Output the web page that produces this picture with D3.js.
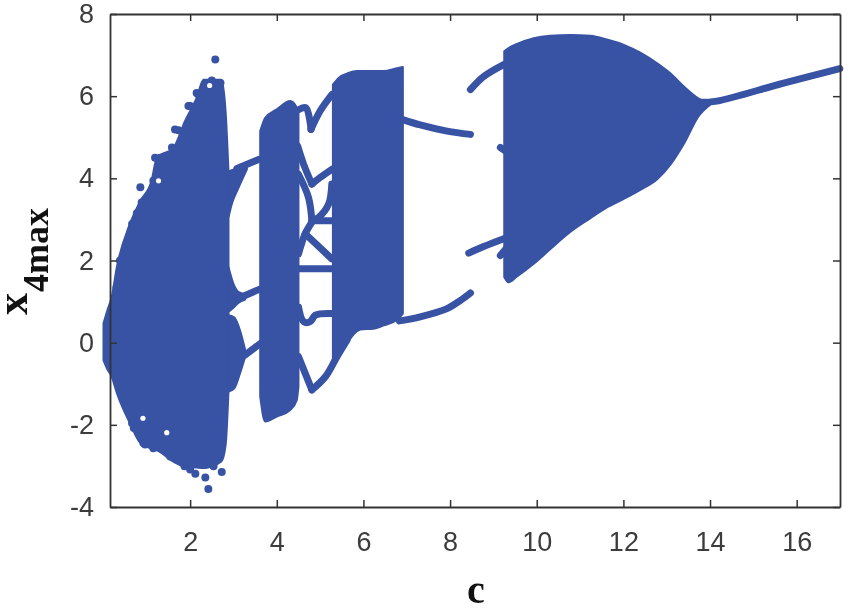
<!DOCTYPE html>
<html lang="en">
<head>
<meta charset="utf-8">
<script src="https://d3js.org/d3.v7.min.js"></script>
<style>
  body { margin: 0; background: #fff; }
  svg { display: block; filter: blur(0.5px); }
</style>
</head>
<body>
<div id="chart"></div>
<script>
// tick labels
const xTicks = [2, 4, 6, 8, 10, 12, 14, 16];
const yTicks = [-4, -2, 0, 2, 4, 6, 8];

// chaotic bands: c, upper edge, lower edge
const band1C  = [0, 0.09, 0.19, 0.31, 0.61, 0.85, 1.11, 1.23, 1.62, 1.88, 2.15, 2.31, 2.72, 2.82, 2.885];
const band1Hi = [0.47, 0.79, 1.11, 1.85, 2.89, 3.45, 3.94, 4.5, 4.75, 5.39, 5.96, 6.4, 6.4, 5.6, 4.17];
const band1Lo = [-0.43, -0.65, -0.83, -1.23, -1.96, -2.44, -2.58, -2.62, -2.9, -3.02, -3.04, -3.05, -2.89, -2.48, -1.19];

const sliverAC  = [2.885, 2.96, 3.12, 3.31];
const sliverAHi = [4.17, 4.2, 4.24, 4.28];
const sliverALo = [3.05, 3.37, 3.78, 4.22];

const sliverBC  = [2.885, 3.0, 3.12, 3.27];
const sliverBHi = [1.84, 1.43, 1.23, 1.18];
const sliverBLo = [0.75, 0.85, 0.97, 1.05];

const lobeC  = [2.885, 3.02, 3.15, 3.27];
const lobeHi = [0.67, 0.61, 0.3, -0.18];
const lobeLo = [-1.19, -1.11, -0.75, -0.34];

const band2C  = [3.617, 3.73, 4.0, 4.31, 4.46, 4.5];
const band2Hi = [5.15, 5.47, 5.68, 5.88, 5.72, 5.6];
const band2Lo = [-1.31, -1.92, -1.8, -1.64, -1.4, -1.07];

const band3C  = [5.295, 5.465, 5.62, 5.85, 5.93, 6.235, 6.465, 6.77, 6.91];
const band3Hi = [6.28, 6.48, 6.55, 6.61, 6.61, 6.61, 6.61, 6.68, 6.71];
const band3Lo = [-0.59, -0.26, -0.02, 0.28, 0.32, 0.34, 0.42, 0.55, 0.71];

const band4C  = [9.25, 9.35, 9.545, 9.93, 10.315, 10.78, 11.24, 11.62, 12.01, 12.39, 12.78, 13.09, 13.39, 13.74, 14.01];
const band4Hi = [7.09, 7.17, 7.27, 7.41, 7.47, 7.49, 7.47, 7.38, 7.25, 7.06, 6.8, 6.55, 6.24, 5.94, 5.82];
const band4Lo = [1.6, 1.47, 1.61, 1.92, 2.28, 2.7, 3.03, 3.29, 3.5, 3.72, 3.98, 4.34, 4.83, 5.52, 5.8];

const bands = [
  [band1C, band1Hi, band1Lo],
  [sliverAC, sliverAHi, sliverALo],
  [sliverBC, sliverBHi, sliverBLo],
  [lobeC, lobeHi, lobeLo],
  [band2C, band2Hi, band2Lo],
  [band3C, band3Hi, band3Lo],
  [band4C, band4Hi, band4Lo]
];

// periodic branches as [c, x4max], split at their corners
const branches = [
  [[3.08, 4.24], [3.58, 4.46]],
  [[3.23, 1.13], [3.62, 1.31]],
  [[3.27, -0.3], [3.62, -0.02]],
  [[4.525, 5.68], [4.67, 5.72], [4.79, 5.19]],
  [[4.79, 5.19], [5.0, 5.64], [5.27, 6.04]],
  [[4.48, 4.79], [4.62, 4.34], [4.81, 3.86]],
  [[4.81, 3.86], [5.0, 4.02], [5.27, 4.22]],
  [[4.5, 4.1], [4.73, 3.54], [4.81, 2.97]],
  [[4.81, 2.97], [5.27, 2.97]],
  [[5.27, 3.86], [5.195, 3.37], [4.965, 3.05], [4.81, 2.97]],
  [[4.81, 2.93], [4.655, 2.65], [4.5, 2.16]],
  [[4.655, 2.65], [5.27, 2.04]],
  [[4.5, 1.8], [5.27, 1.8]],
  [[4.5, 0.87], [4.62, 0.51], [4.77, 0.51], [4.89, 0.67], [5.27, 0.71]],
  [[4.5, -0.34], [4.81, -1.15]],
  [[4.81, -1.15], [5.12, -0.83], [5.39, -0.34], [5.62, 0.06]],
  [[6.91, 5.43], [7.31, 5.3], [7.93, 5.15], [8.47, 5.07]],
  [[6.83, 0.53], [7.31, 0.63], [7.93, 0.83], [8.24, 1.03], [8.47, 1.21]],
  [[8.47, 6.16], [8.775, 6.48], [9.237, 6.77]],
  [[8.43, 2.18], [8.775, 2.34], [9.237, 2.53]],
  [[9.16, 2.12], [9.3, 2.3]],
  [[9.16, 4.75], [9.3, 4.65]],
  [[13.74, 5.85], [14.16, 5.88], [15.7, 6.32], [16.996, 6.67]]
];

// stray points around the first band
const strayC = [2.58, 0.85, 0.77, 0.66, 0.88, 1.15, 1.65, 1.96, 2.19, 2.35, 2.7, 1.31, 2.5, 2.42, 2.35, 2.73, 2.12, 1.87, 2.35, 0.92, 0.72, 0.33,
  0.3, 0.38, 0.52, 0.63, 1.19, 1.58, 1.73, 2.0, 2.15, 2.7, 2.74, 0.66, 0.7, 0.88, 0.96, 1.15, 1.54, 2.0, 2.54, 2.74];
const strayV = [6.89, 3.78, 3.15, 2.89, 3.41, 3.94, 5.19, 5.76, 6.04, 6.32, 6.32, 4.5, 6.38, -3.56, -3.28, -3.15, -3.19, -3.01, -2.97, -2.44, -1.96, 1.35,
  1.35, 2.0, 2.32, 2.73, 4.5, 4.75, 5.17, 5.76, 6.08, 6.04, 5.31, -1.96, -2.08, -2.28, -2.48, -2.57, -2.77, -3.09, -3.01, -2.4];

// small gaps left inside the first band
const holeC = [2.45, 1.27, 0.91, 1.46];
const holeV = [6.26, 3.94, -1.84, -2.19];

const blue = "#3853a4";
const ink = "#333";

const margin = {top: 14, right: 10, bottom: 105, left: 110},
    width = 850 - margin.left - margin.right,
    height = 612 - margin.top - margin.bottom;

const root = d3.select("#chart")
  .append("svg")
    .attr("width", 850)
    .attr("height", 612);

const svg = root.append("g")
    .attr("transform", `translate(${margin.left}, ${margin.top})`);

const x = d3.scaleLinear().domain([0.15, 17]).range([0, width]);
const y = d3.scaleLinear().domain([-4, 8]).range([height, 0]);

// bands
const area = d3.area()
  .curve(d3.curveMonotoneX)
  .x(d => x(d[0]))
  .y0(d => y(d[2]))
  .y1(d => y(d[1]));

svg.selectAll("path.band")
  .data(bands)
  .join("path")
    .attr("class", "band")
    .attr("d", b => area(b[0].map((c, i) => [c, b[1][i], b[2][i]])))
    .attr("fill", blue)
    .attr("stroke", blue)
    .attr("stroke-width", 2)
    .attr("stroke-linejoin", "round");

// branches
const line = d3.line()
  .curve(d3.curveCatmullRom)
  .x(d => x(d[0]))
  .y(d => y(d[1]));

svg.selectAll("path.branch")
  .data(branches)
  .join("path")
    .attr("class", "branch")
    .attr("d", line)
    .attr("fill", "none")
    .attr("stroke", blue)
    .attr("stroke-width", 7)
    .attr("stroke-linecap", "round")
    .attr("stroke-linejoin", "round");

svg.selectAll("circle.stray")
  .data(strayC)
  .join("circle")
    .attr("class", "stray")
    .attr("cx", d => x(d))
    .attr("cy", (d, i) => y(strayV[i]))
    .attr("r", 4)
    .attr("fill", blue);

svg.selectAll("circle.hole")
  .data(holeC)
  .join("circle")
    .attr("class", "hole")
    .attr("cx", d => x(d))
    .attr("cy", (d, i) => y(holeV[i]))
    .attr("r", 2.6)
    .attr("fill", "#fff");

// axes, ticks point inwards on all four sides
const bottom = svg.append("g")
  .attr("transform", `translate(0, ${height})`)
  .call(d3.axisBottom(x).tickValues(xTicks).tickSizeInner(-7).tickSizeOuter(0).tickPadding(25).tickFormat(d => d));
const left = svg.append("g")
  .call(d3.axisLeft(y).tickValues(yTicks).tickSizeInner(-7).tickSizeOuter(0).tickPadding(16).tickFormat(d => d));
const top_ = svg.append("g")
  .call(d3.axisTop(x).tickValues(xTicks).tickSizeInner(-7).tickSizeOuter(0).tickFormat(""));
const right = svg.append("g")
  .attr("transform", `translate(${width}, 0)`)
  .call(d3.axisRight(y).tickValues(yTicks).tickSizeInner(-7).tickSizeOuter(0).tickFormat(""));

[bottom, left, top_, right].forEach(g => {
  g.selectAll("path.domain").attr("stroke", ink).attr("stroke-width", 1.8);
  g.selectAll("line").attr("stroke", ink).attr("stroke-width", 1.5);
  g.selectAll("text")
    .attr("fill", "#3c3c3c")
    .style("font-family", "'Liberation Sans', Arial, sans-serif")
    .style("font-size", "27px");
});

// axis titles
root.append("text")
  .attr("x", 476)
  .attr("y", 603)
  .attr("text-anchor", "middle")
  .attr("fill", "#111")
  .style("font-family", "'Liberation Serif', serif")
  .style("font-weight", "bold")
  .style("font-size", "40px")
  .text("c");

const yLabel = root.append("text")
  .attr("transform", "translate(27, 315) rotate(-90)")
  .attr("fill", "#111")
  .style("font-family", "'Liberation Serif', serif")
  .style("font-weight", "bold")
  .style("font-size", "44px");
yLabel.append("tspan").text("x");
yLabel.append("tspan")
  .attr("dy", 21)
  .attr("dx", 1)
  .style("font-size", "36px")
  .text("4max");
</script>
</body>
</html>
